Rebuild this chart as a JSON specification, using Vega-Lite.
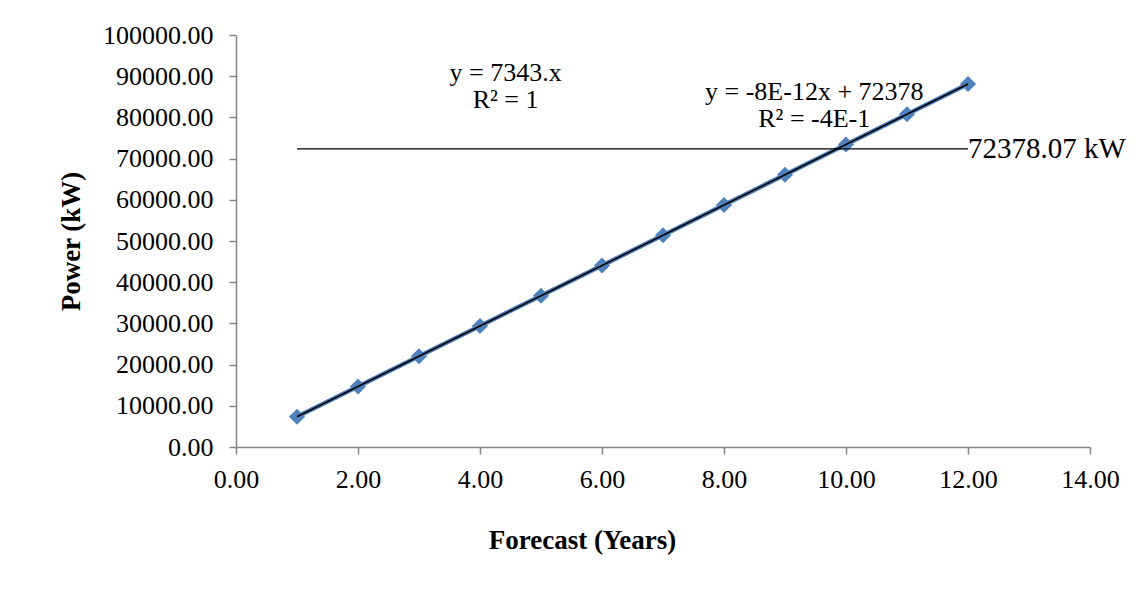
{
  "$schema": "https://vega.github.io/schema/vega-lite/v6.json",
  "autosize": "none",
  "width": 854,
  "height": 412,
  "padding": {"left": 236, "top": 35, "right": 56, "bottom": 154},
  "background": "white",
  "config": {
    "view": {"stroke": null},
    "font": "Liberation Serif",
    "axis": {
      "labelFont": "Liberation Serif",
      "titleFont": "Liberation Serif",
      "labelFontSize": 26,
      "titleFontSize": 27,
      "labelColor": "black",
      "titleColor": "black",
      "domainColor": "#868686",
      "tickColor": "#868686",
      "domainWidth": 1.5,
      "tickWidth": 1.5,
      "tickSize": 7,
      "grid": false,
      "labelFlush": false,
      "labelOverlap": false,
      "titleFontWeight": "bold"
    }
  },
  "datasets": {
    "series": [
      {"year": 1, "power": 7343},
      {"year": 2, "power": 14686},
      {"year": 3, "power": 22029},
      {"year": 4, "power": 29372},
      {"year": 5, "power": 36715},
      {"year": 6, "power": 44058},
      {"year": 7, "power": 51401},
      {"year": 8, "power": 58744},
      {"year": 9, "power": 66087},
      {"year": 10, "power": 73430},
      {"year": 11, "power": 80773},
      {"year": 12, "power": 88116}
    ],
    "limit": [
      {"x1": 1, "x2": 12, "power": 72378.07, "label": "72378.07 kW"}
    ],
    "notes": [
      {"year": 4.42, "power": 90700, "lines": ["y = 7343.x", "R² = 1"]},
      {"year": 9.48, "power": 86100, "lines": ["y = -8E-12x + 72378", "R² = -4E-1"]}
    ]
  },
  "layer": [
    {
      "data": {"name": "series"},
      "mark": {"type": "line", "color": "#4A7EBB", "strokeWidth": 4.5},
      "encoding": {
        "x": {
          "field": "year", "type": "quantitative",
          "scale": {"domain": [0, 14], "nice": false},
          "axis": {"values": [0, 2, 4, 6, 8, 10, 12, 14], "format": ".2f", "title": "Forecast (Years)", "labelPadding": 12, "titlePadding": 35, "titleX": 346}
        },
        "y": {
          "field": "power", "type": "quantitative",
          "scale": {"domain": [0, 100000], "nice": false},
          "axis": {"values": [0, 10000, 20000, 30000, 40000, 50000, 60000, 70000, 80000, 90000, 100000], "format": ".2f", "title": "Power  (kW)", "labelPadding": 16, "titlePadding": 17}
        }
      }
    },
    {
      "data": {"name": "series"},
      "mark": {"type": "point", "shape": "diamond", "filled": true, "color": "#4F81BD", "opacity": 1, "size": 260},
      "encoding": {
        "x": {"field": "year", "type": "quantitative"},
        "y": {"field": "power", "type": "quantitative"}
      }
    },
    {
      "data": {"name": "series"},
      "mark": {"type": "line", "color": "black", "strokeWidth": 1.6},
      "encoding": {
        "x": {"field": "year", "type": "quantitative"},
        "y": {"field": "power", "type": "quantitative"}
      }
    },
    {
      "data": {"name": "limit"},
      "mark": {"type": "rule", "color": "black", "strokeWidth": 1.3},
      "encoding": {
        "x": {"field": "x1", "type": "quantitative"},
        "x2": {"field": "x2"},
        "y": {"field": "power", "type": "quantitative"}
      }
    },
    {
      "data": {"name": "limit"},
      "mark": {"type": "text", "align": "left", "baseline": "middle", "fontSize": 29, "font": "Liberation Serif", "color": "black", "dx": 0},
      "encoding": {
        "x": {"field": "x2", "type": "quantitative"},
        "y": {"field": "power", "type": "quantitative"},
        "text": {"field": "label"}
      }
    },
    {
      "data": {"name": "notes"},
      "mark": {"type": "text", "align": "center", "baseline": "middle", "fontSize": 26, "font": "Liberation Serif", "color": "black", "lineHeight": 27},
      "encoding": {
        "x": {"field": "year", "type": "quantitative"},
        "y": {"field": "power", "type": "quantitative"},
        "text": {"field": "lines"}
      }
    }
  ]
}
